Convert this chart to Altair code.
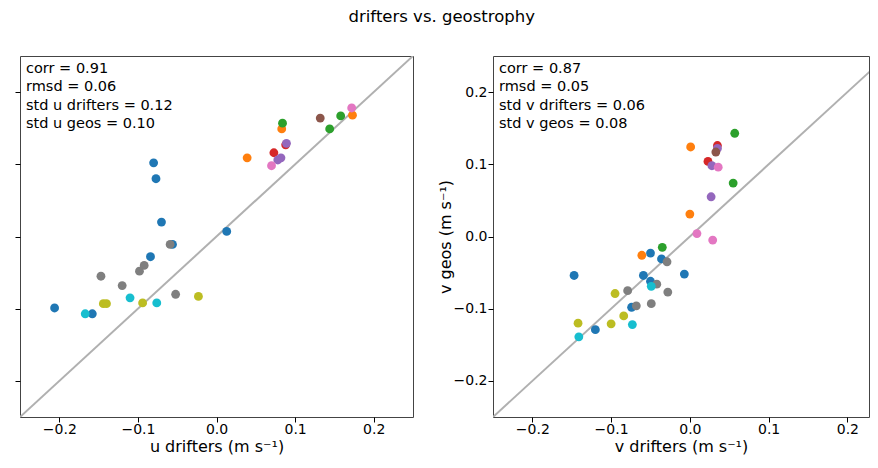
import altair as alt
import pandas as pd

TAB10 = ["#1f77b4", "#ff7f0e", "#2ca02c", "#d62728", "#9467bd",
         "#8c564b", "#e377c2", "#7f7f7f", "#bcbd22", "#17becf"]

# ---- left panel: u component ----
u_drifters = [-0.206, -0.158, -0.084, -0.056, -0.070, -0.077, -0.080, 0.013,
              0.039, 0.083, 0.173,
              0.084, 0.144, 0.158,
              0.073, 0.088,
              0.078, 0.082, 0.089,
              0.132,
              0.070, 0.172,
              -0.059, -0.092, -0.098, -0.147, -0.120, -0.052,
              -0.023, -0.094, -0.144, -0.140,
              -0.110, -0.076, -0.167]
u_geos = [-0.099, -0.107, -0.028, -0.011, 0.020, 0.080, 0.102, 0.007,
          0.109, 0.149, 0.168,
          0.157, 0.149, 0.167,
          0.116, 0.127,
          0.106, 0.109, 0.129,
          0.164,
          0.098, 0.178,
          -0.011, -0.040, -0.048, -0.055, -0.068, -0.080,
          -0.083, -0.092, -0.093, -0.093,
          -0.085, -0.092, -0.107]
u_group = [0] * 8 + [1] * 3 + [2] * 3 + [3] * 2 + [4] * 3 + [5] * 1 + [6] * 2 + [7] * 6 + [8] * 4 + [9] * 3

# ---- right panel: v component ----
v_drifters = [-0.050, -0.036, -0.147, -0.059, -0.007, -0.050, -0.074, -0.120,
              0.001, 0.000, -0.061,
              0.057, 0.055, -0.035,
              0.035, 0.023,
              0.035, 0.028, 0.027,
              0.033,
              0.036, 0.009, 0.029,
              -0.029, -0.042, -0.079, -0.028, -0.049, -0.068,
              -0.095, -0.084, -0.142, -0.100,
              -0.049, -0.073, -0.141]
v_geos = [-0.023, -0.031, -0.054, -0.054, -0.052, -0.062, -0.098, -0.129,
          0.124, 0.031, -0.026,
          0.143, 0.074, -0.015,
          0.126, 0.104,
          0.122, 0.098, 0.055,
          0.117,
          0.096, 0.004, -0.005,
          -0.035, -0.066, -0.075, -0.077, -0.093, -0.096,
          -0.079, -0.110, -0.120, -0.121,
          -0.069, -0.122, -0.139]
v_group = [0] * 8 + [1] * 3 + [2] * 3 + [3] * 2 + [4] * 3 + [5] * 1 + [6] * 3 + [7] * 6 + [8] * 4 + [9] * 3

stats_u = ["corr = 0.91", "rmsd = 0.06", "std u drifters = 0.12", "std u geos = 0.10"]
stats_v = ["corr = 0.87", "rmsd = 0.05", "std v drifters = 0.06", "std v geos = 0.08"]

tick_values = [-0.2, -0.1, 0.0, 0.1, 0.2]
axis_range = [-0.25, 0.25]
right_xmax = 0.2275  # right panel is cut by the figure edge

FONT = "DejaVu Sans"


def panel(xs, ys, groups, stats, xtitle, ytitle, show_ylabels, width, xmax):
    df = pd.DataFrame({"x": xs, "y": ys, "g": [f"c{i}" for i in groups]})
    diag = pd.DataFrame({"x": axis_range, "y": axis_range})
    txt = pd.DataFrame({"t": ["\n".join(stats)]})

    xscale = alt.Scale(domain=[axis_range[0], xmax], nice=False, zero=False)
    yscale = alt.Scale(domain=axis_range, nice=False, zero=False)
    xenc = alt.X("x:Q", scale=xscale,
                 axis=alt.Axis(values=tick_values, format=".1f", title=xtitle,
                               labelPadding=0, titlePadding=2))
    if show_ylabels:
        yaxis = alt.Axis(values=tick_values, format=".1f", title=ytitle,
                         labelPadding=1, titlePadding=0)
    else:
        yaxis = alt.Axis(values=tick_values, labels=False, title=None)
    yenc = alt.Y("y:Q", scale=yscale, axis=yaxis)

    line = alt.Chart(diag).mark_line(clip=True, color="#b0b0b0", strokeWidth=2).encode(
        x=xenc, y=yenc)
    pts = alt.Chart(df).mark_circle(size=78, opacity=1).encode(
        x="x:Q", y="y:Q",
        color=alt.Color("g:N", scale=alt.Scale(domain=[f"c{i}" for i in range(10)], range=TAB10),
                        legend=None))
    text = alt.Chart(txt).mark_text(align="left", baseline="top", lineBreak="\n",
                                    lineHeight=18.3, fontSize=14.5, font=FONT,
                                    color="black").encode(
        text="t:N", x=alt.value(6), y=alt.value(6))
    return alt.layer(line, pts, text).properties(width=width, height=361)


left = panel(u_drifters, u_geos, u_group, stats_u, "u drifters (m s⁻¹)", None, False, 393, axis_range[1])
right = panel(v_drifters, v_geos, v_group, stats_v, "v drifters (m s⁻¹)", "v geos (m s⁻¹)", True, 376, right_xmax)

chart = alt.hconcat(left, right, spacing=22).properties(
    title=alt.TitleParams("drifters vs. geostrophy", fontSize=16.5, fontWeight="normal",
                          font=FONT, anchor="middle", offset=30, color="black"),
    padding={"left": 6, "top": 1, "right": 0, "bottom": 0},
).configure_view(
    stroke="#444444", strokeWidth=1
).configure_axis(
    grid=False, domain=False, labelFont=FONT, titleFont=FONT,
    labelFontSize=14, titleFontSize=16, titleFontWeight="normal",
    labelColor="black", titleColor="black", tickColor="black", tickSize=5
)

chart.save("out.html", embed_options={"renderer": "svg", "actions": False})
